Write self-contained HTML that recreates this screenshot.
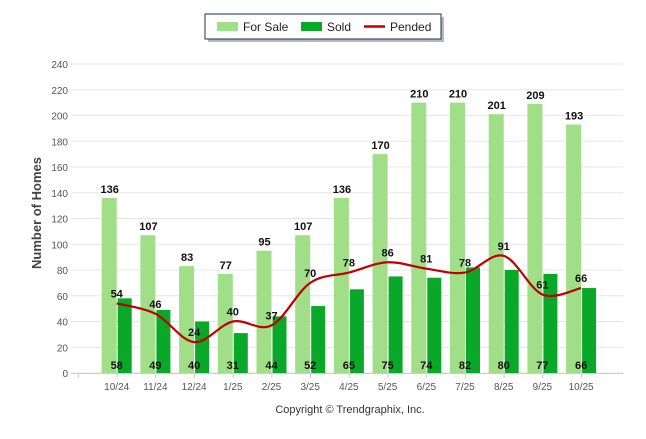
<!DOCTYPE html>
<html><head><meta charset="utf-8"><style>
body{margin:0;background:#fff;font-family:"Liberation Sans",sans-serif;}
svg text{font-family:"Liberation Sans",sans-serif;}
</style></head><body>
<svg id="c" width="646" height="434" xmlns="http://www.w3.org/2000/svg">
<g>
<rect x="208" y="17" width="236" height="25" fill="#888" opacity="0.6"/>
<rect x="205" y="14" width="236" height="25" fill="#fff" stroke="#1f3155" stroke-width="1"/>
<rect x="217" y="22" width="21" height="9" fill="#a0df87"/>
<text x="243" y="31" font-size="12" fill="#222">For Sale</text>
<rect x="301" y="22" width="21" height="9" fill="#0aa828"/>
<text x="327" y="31" font-size="12" fill="#222">Sold</text>
<line x1="364" y1="26.5" x2="385" y2="26.5" stroke="#c00000" stroke-width="2.5"/>
<text x="390" y="31" font-size="12" fill="#222">Pended</text>
</g>
<text transform="translate(41,213) rotate(-90)" text-anchor="middle" font-size="13" font-weight="bold" fill="#444">Number of Homes</text>
<text x="350" y="413" text-anchor="middle" font-size="11" fill="#333">Copyright © Trendgraphix, Inc.</text>
<g id="grid"></g><g id="bars"></g><g id="line"></g><g id="labels"></g>
</svg>
<script>
const categories=["10/24","11/24","12/24","1/25","2/25","3/25","4/25","5/25","6/25","7/25","8/25","9/25","10/25"];
const forSale=[136,107,83,77,95,107,136,170,210,210,201,209,193];
const sold=[58,49,40,31,44,52,65,75,74,82,80,77,66];
const pended=[54,46,24,40,37,70,78,86,81,78,91,61,66];
const yTicks=[0,20,40,60,80,100,120,140,160,180,200,220,240];
const NS="http://www.w3.org/2000/svg";
const x0=78,step=38.7,y0=373,ppu=309/240;
const X=i=>x0+step*(i+1);
const Y=v=>y0-v*ppu;
function mk(t,a,p,txt){const e=document.createElementNS(NS,t);for(const k in a)e.setAttribute(k,a[k]);if(txt!==undefined)e.textContent=txt;p.appendChild(e);return e;}
const grid=document.getElementById('grid'),bars=document.getElementById('bars'),line=document.getElementById('line'),labels=document.getElementById('labels');
yTicks.forEach(t=>{
 const g=mk('line',{x1:71,x2:623,y1:Y(t),y2:Y(t),stroke:'#e6e6e6','stroke-width':1},grid);
 
 
 const l=mk('text',{x:68,y:Y(t)+4,'text-anchor':'end','font-size':10,fill:'#555'},grid,t);
 
 
});
const ax=mk('line',{x1:71,x2:623,y1:y0+0.5,y2:y0+0.5,stroke:'#ccc'},grid);


for(let i=0;i<=13;i++){const tk=mk('line',{x1:x0+step*(i+0.5)-19,x2:x0+step*(i+0.5)-19,y1:y0,y2:y0+5,stroke:'#ccc'},grid);
 
 }
categories.forEach((c,i)=>{
 const cx=X(i);
 const b1=mk('rect',{x:cx-15,y:Y(forSale[i]),width:15,height:forSale[i]*ppu,fill:'#a0df87'},bars);
 
 
 const b2=mk('rect',{x:cx+1,y:Y(sold[i]),width:14,height:sold[i]*ppu,fill:'#0aa828'},bars);
 
 
 const xl=mk('text',{x:cx,y:y0+17,'text-anchor':'middle','font-size':10,fill:'#555'},labels,c);
 
 
 const fl=mk('text',{x:cx-7,y:Y(forSale[i])-5,'text-anchor':'middle','font-size':11,'font-weight':'bold',fill:'#111'},labels,forSale[i]);
 
 
 const sl=mk('text',{x:cx,y:y0-4,'text-anchor':'middle','font-size':11,'font-weight':'bold',fill:'#111'},labels,sold[i]);
 
 
 const pl=mk('text',{x:cx,y:Y(pended[i])-6,'text-anchor':'middle','font-size':11,'font-weight':'bold',fill:'#111'},labels,pended[i]);
 
 
});
const pts=pended.map((v,i)=>[X(i),Y(v)]);
let d='M'+pts[0][0]+','+pts[0][1];
for(let i=0;i<pts.length-1;i++){
 const p0=pts[Math.max(0,i-1)],p1=pts[i],p2=pts[i+1],p3=pts[Math.min(pts.length-1,i+2)];
 const k=1/6;
 d+=' C'+(p1[0]+(p2[0]-p0[0])*k)+','+(p1[1]+(p2[1]-p0[1])*k)+' '+(p2[0]-(p3[0]-p1[0])*k)+','+(p2[1]-(p3[1]-p1[1])*k)+' '+p2[0]+','+p2[1];
}
const pl=mk('path',{d:d,fill:'none',stroke:'#c00000','stroke-width':2.2},line);


</script>
</body></html>
